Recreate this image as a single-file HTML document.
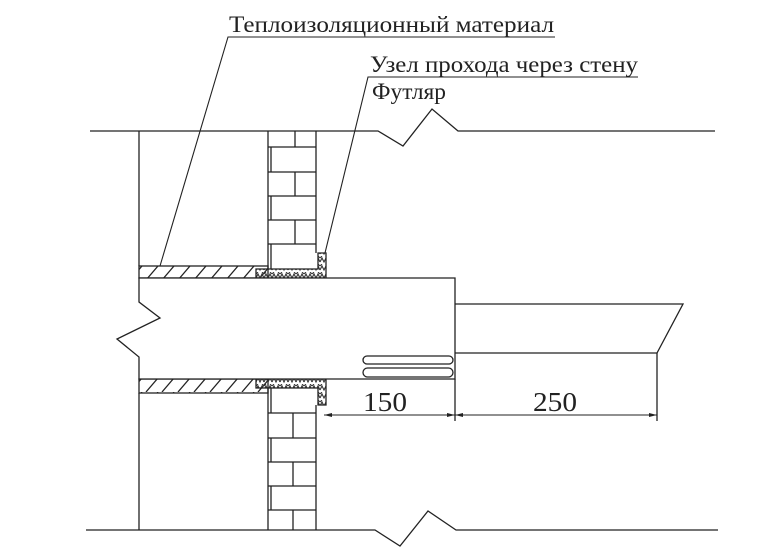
<!DOCTYPE html>
<html><head><meta charset="utf-8"><style>
html,body{margin:0;padding:0;background:#fff;}
svg{display:block;}
text{font-family:"Liberation Serif","DejaVu Serif",serif;fill:#222;}
</style></head><body>
<svg width="765" height="559" viewBox="0 0 765 559" xmlns="http://www.w3.org/2000/svg">
<defs>
<pattern id="hat" width="16" height="14" patternUnits="userSpaceOnUse">
<line x1="2" y1="14" x2="14" y2="0" stroke="#222" stroke-width="1.3"/>
</pattern>
<pattern id="cross" width="8" height="8" patternUnits="userSpaceOnUse">
<path d="M0 6 L2 2 L4 6 L6 2 L8 6" fill="none" stroke="#333" stroke-width="1.1"/>
<path d="M0 2 L2 0 M6 0 L8 2" fill="none" stroke="#333" stroke-width="1"/>
</pattern>
</defs>
<g stroke="#222" stroke-width="1.3" fill="none">
<polyline points="90,131 378,131 403,146 432,109 458,131 715,131"/>
<polyline points="86,530 375,530 400,546 428,511 456,530 718,530"/>
<line x1="139" y1="131" x2="139" y2="266"/>
<line x1="139" y1="393" x2="139" y2="530"/>
<line x1="268" y1="131" x2="268" y2="269"/>
<line x1="316" y1="131" x2="316" y2="253"/>
<line x1="268" y1="147" x2="316" y2="147"/>
<line x1="268" y1="172" x2="316" y2="172"/>
<line x1="268" y1="196" x2="316" y2="196"/>
<line x1="268" y1="220" x2="316" y2="220"/>
<line x1="268" y1="244" x2="316" y2="244"/>
<line x1="295" y1="131" x2="295" y2="147"/>
<line x1="295" y1="172" x2="295" y2="196"/>
<line x1="295" y1="220" x2="295" y2="244"/>
<line x1="271" y1="147" x2="271" y2="172"/>
<line x1="271" y1="196" x2="271" y2="220"/>
<line x1="271" y1="244" x2="271" y2="269"/>
<line x1="268" y1="388" x2="268" y2="530"/>
<line x1="316" y1="405" x2="316" y2="530"/>
<line x1="268" y1="413" x2="316" y2="413"/>
<line x1="268" y1="438" x2="316" y2="438"/>
<line x1="268" y1="462" x2="316" y2="462"/>
<line x1="268" y1="486" x2="316" y2="486"/>
<line x1="268" y1="510" x2="316" y2="510"/>
<line x1="271" y1="388" x2="271" y2="413"/>
<line x1="293" y1="413" x2="293" y2="438"/>
<line x1="271" y1="438" x2="271" y2="462"/>
<line x1="293" y1="462" x2="293" y2="486"/>
<line x1="271" y1="486" x2="271" y2="510"/>
<line x1="293" y1="510" x2="293" y2="530"/>
<rect x="139" y="266" width="129" height="12" fill="url(#hat)"/>
<rect x="139" y="379" width="129" height="14" fill="url(#hat)"/>
<path d="M256 269 H318 V253 H326 V278 H256 Z" fill="url(#cross)"/>
<path d="M256 379 H326 V405 H318 V388 H256 Z" fill="url(#cross)"/>
<path d="M139 278 H455 V379 H139 V357 L117 339 L160 318 L139 302 Z" fill="#fff"/>
<polyline points="455,304 683,304 657,353 455,353"/>
<rect x="363" y="356" width="90" height="8" rx="4"/>
<rect x="363" y="368" width="90" height="9" rx="4.5"/>
<line x1="455" y1="379" x2="455" y2="421"/>
<line x1="657" y1="353" x2="657" y2="421"/>
<line x1="324" y1="415" x2="657" y2="415" stroke-width="1"/>
<polyline points="555,37 228,37 160,266" stroke-width="1.1"/>
<polyline points="638,77 368,77 325,253" stroke-width="1.1"/>
</g>
<g fill="#222">
<path d="M324 415 l8 -2 v4 z"/><path d="M455 415 l-8 -2 v4 z"/>
<path d="M455 415 l8 -2 v4 z"/><path d="M657 415 l-8 -2 v4 z"/>
</g>
<text x="229" y="32" font-size="23" textLength="325" lengthAdjust="spacingAndGlyphs">Теплоизоляционный материал</text>
<text x="370" y="72" font-size="23" textLength="268" lengthAdjust="spacingAndGlyphs">Узел прохода через стену</text>
<text x="372" y="99" font-size="23" textLength="74" lengthAdjust="spacingAndGlyphs">Футляр</text>
<text x="385" y="411" font-size="27" text-anchor="middle" textLength="44" lengthAdjust="spacingAndGlyphs">150</text>
<text x="555" y="411" font-size="27" text-anchor="middle" textLength="44" lengthAdjust="spacingAndGlyphs">250</text>
</svg>
</body></html>
